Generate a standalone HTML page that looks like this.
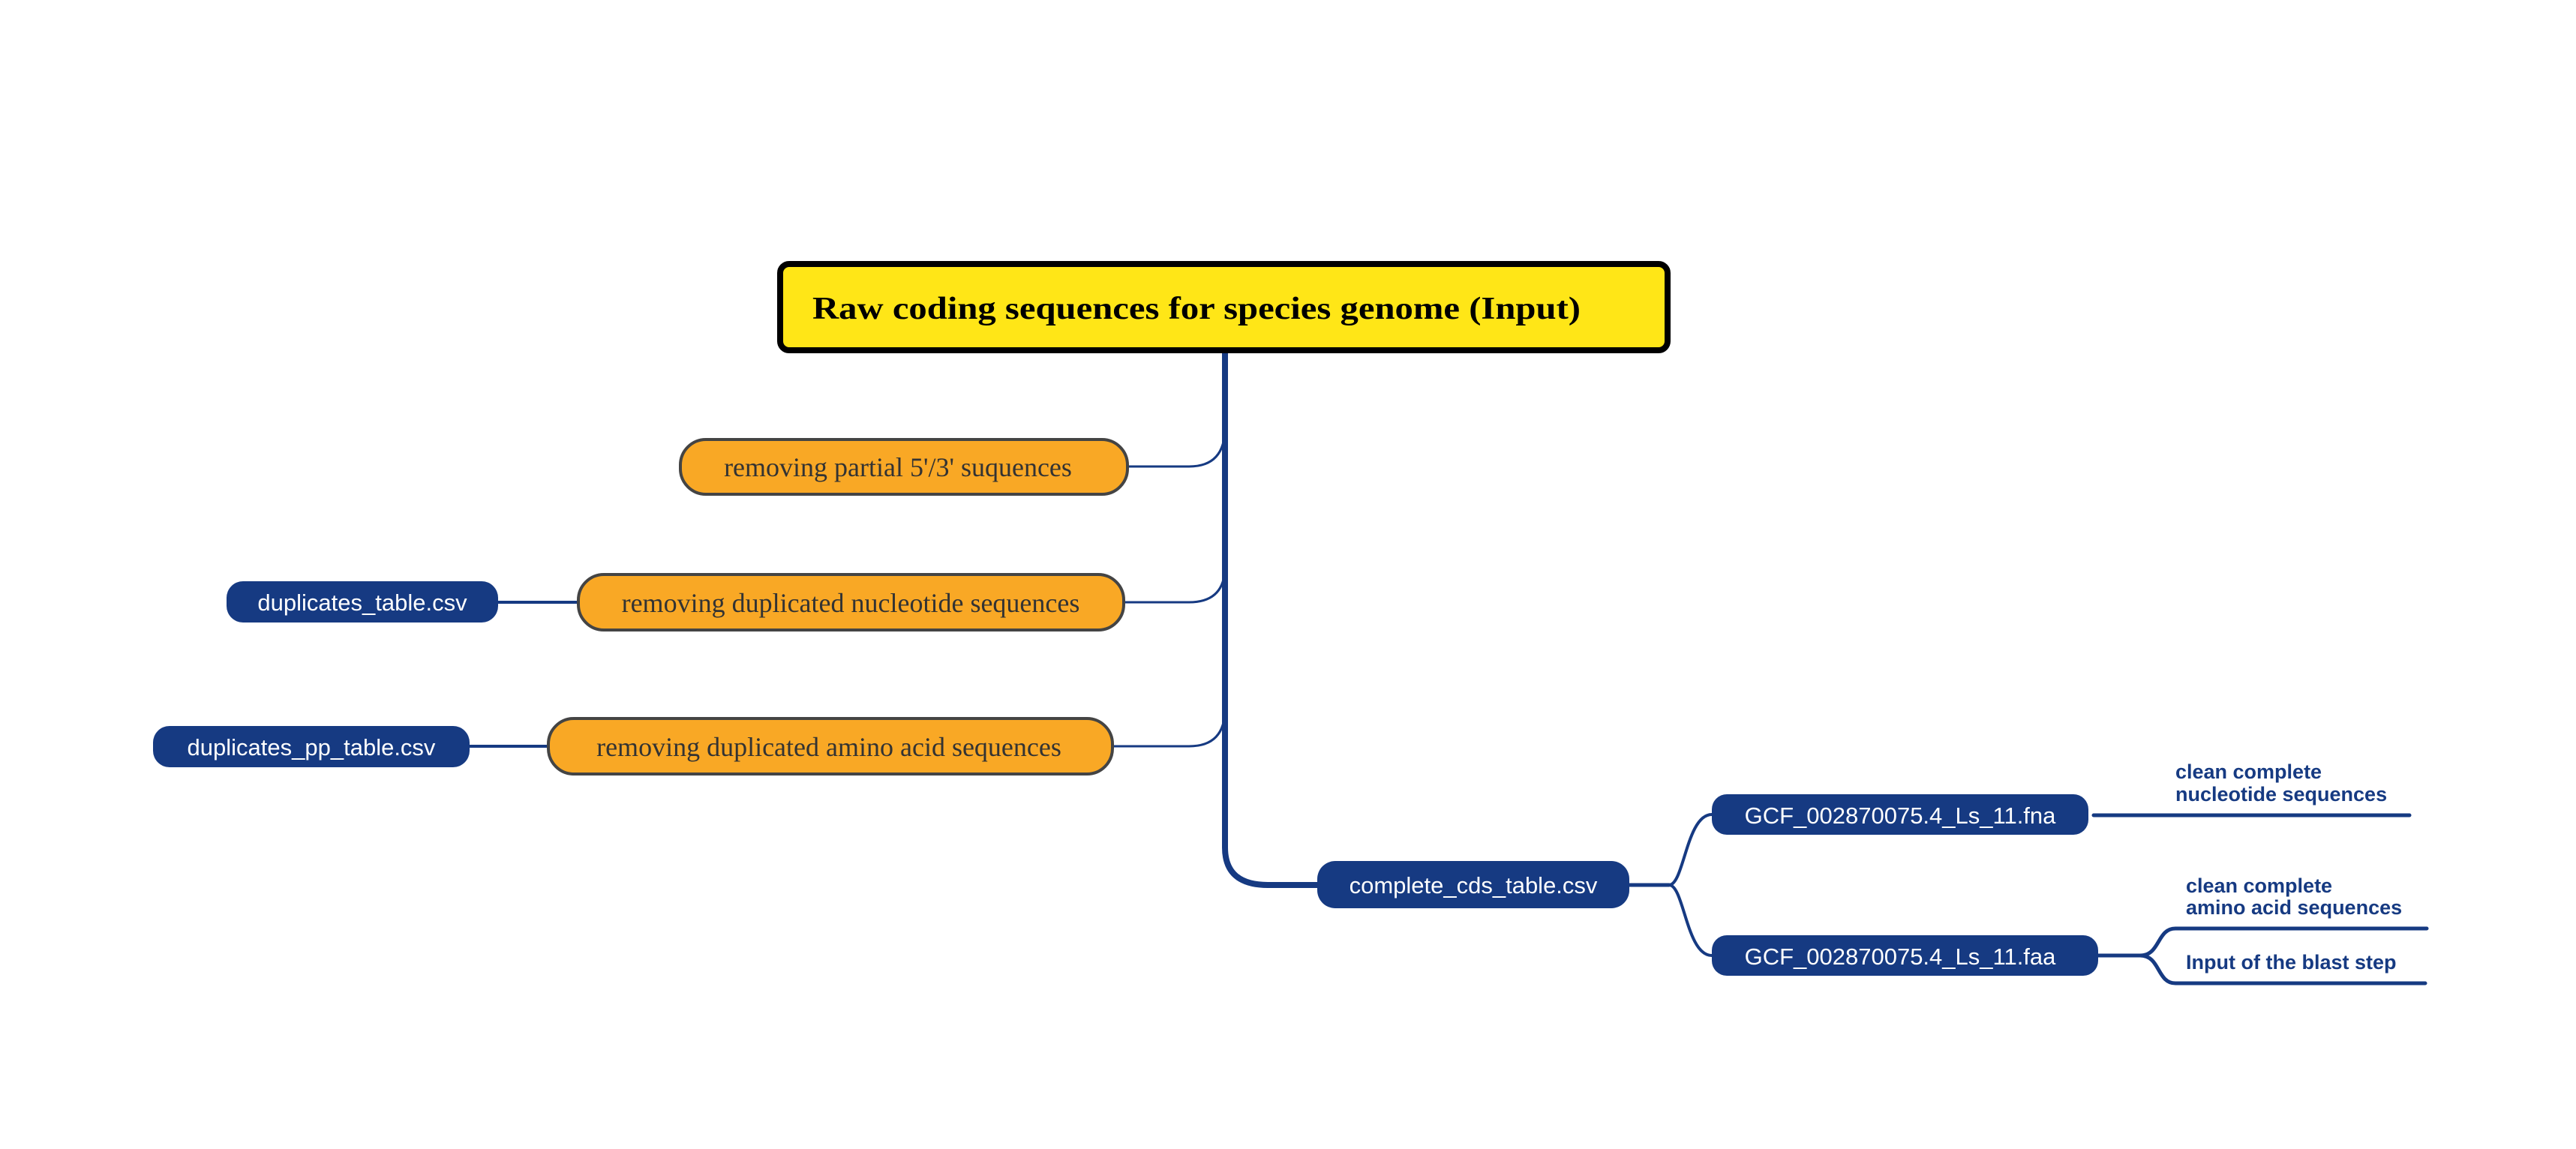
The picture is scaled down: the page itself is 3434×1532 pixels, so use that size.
<!DOCTYPE html>
<html><head><meta charset="utf-8"><style>
html,body{margin:0;padding:0;background:#fff;}
svg{display:block;}
.serif{font-family:"Liberation Serif",serif;}
.sans{font-family:"Liberation Sans","DejaVu Sans",sans-serif;}
</style></head><body>
<svg width="3434" height="1532" viewBox="0 0 3434 1532" xmlns="http://www.w3.org/2000/svg">
<g fill="none" stroke="#163a82" stroke-linecap="round">
  <path d="M1633 469 V1130 Q1633 1180 1690 1180 H1756" stroke-width="8"/>
  <path d="M1503 622 H1585 Q1633 622 1633 570" stroke-width="3"/>
  <path d="M1498 803 H1585 Q1633 803 1633 755" stroke-width="3"/>
  <path d="M1483 995 H1585 Q1633 995 1633 945" stroke-width="3"/>
  <path d="M664 803 H771" stroke-width="4"/>
  <path d="M626 995 H731" stroke-width="4"/>
  <path d="M2172 1180 H2225" stroke-width="5"/>
  <path d="M2225 1180 C2245 1180 2248 1086 2282 1086" stroke-width="4"/>
  <path d="M2225 1180 C2245 1180 2248 1274 2282 1274" stroke-width="4"/>
  <path d="M2791 1087 H3212" stroke-width="5"/>
  <path d="M2797 1274 H2853" stroke-width="5"/>
  <path d="M2853 1274 C2880 1274 2875 1238 2900 1238 H3235" stroke-width="5"/>
  <path d="M2853 1274 C2880 1274 2875 1311 2900 1311 H3233" stroke-width="5"/>
</g>
<rect x="1040" y="352" width="1183" height="115" rx="12" fill="#ffe617" stroke="#000" stroke-width="8"/>
<text x="1083" y="425" class="serif" font-size="42" font-weight="bold" fill="#000" textLength="1024" lengthAdjust="spacingAndGlyphs">Raw coding sequences for species genome (Input)</text>

<g fill="#f9a825" stroke="#444" stroke-width="4">
  <rect x="907" y="586" width="596" height="73" rx="34"/>
  <rect x="771" y="766" width="727" height="74" rx="34"/>
  <rect x="731" y="958" width="752" height="74" rx="34"/>
</g>
<g class="serif" font-size="36" fill="#333" text-anchor="middle">
  <text x="1197" y="635">removing partial 5'/3' suquences</text>
  <text x="1134" y="816">removing duplicated nucleotide sequences</text>
  <text x="1105" y="1008">removing duplicated amino acid sequences</text>
</g>

<g fill="#163a82">
  <rect x="302" y="775" width="362" height="55" rx="22"/>
  <rect x="204" y="968" width="422" height="55" rx="22"/>
  <rect x="1756" y="1148" width="416" height="63" rx="24"/>
  <rect x="2282" y="1059" width="502" height="54" rx="20"/>
  <rect x="2282" y="1247" width="515" height="54" rx="20"/>
</g>
<g class="sans" font-size="31" fill="#fff" text-anchor="middle">
  <text x="483" y="814">duplicates_table.csv</text>
  <text x="415" y="1007">duplicates_pp_table.csv</text>
  <text x="1964" y="1191">complete_cds_table.csv</text>
  <text x="2533" y="1098">GCF_002870075.4_Ls_11.fna</text>
  <text x="2533" y="1286">GCF_002870075.4_Ls_11.faa</text>
</g>
<g class="sans" font-size="27" font-weight="bold" fill="#163a82">
  <text x="2900" y="1038">clean complete</text>
  <text x="2900" y="1068">nucleotide sequences</text>
  <text x="2914" y="1190">clean complete</text>
  <text x="2914" y="1219">amino acid sequences</text>
  <text x="2914" y="1292">Input of the blast step</text>
</g>
</svg>
</body></html>
